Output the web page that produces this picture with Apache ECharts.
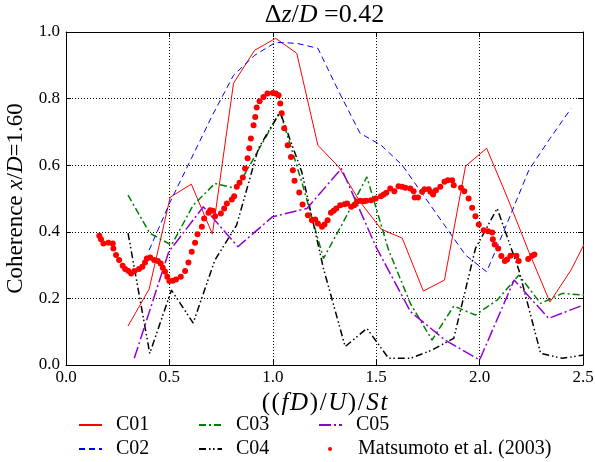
<!DOCTYPE html>
<html>
<head>
<meta charset="utf-8">
<script src="https://cdn.jsdelivr.net/npm/echarts@6/dist/echarts.min.js"></script>
<style>
  html, body { margin: 0; padding: 0; background: #fff; }
  #chart { width: 595px; height: 462px; }
</style>
</head>
<body>
<div id="chart"></div>
<script>
// Frequency axis values (normalised by each case's Strouhal number) and coherence
const xC01 = [0.300, 0.402, 0.504, 0.606, 0.708, 0.810, 0.912, 1.014, 1.116, 1.218, 1.320, 1.422,
              1.524, 1.626, 1.728, 1.830, 1.932, 2.034, 2.136, 2.238, 2.340, 2.442, 2.544];
const yC01 = [0.117, 0.228, 0.504, 0.543, 0.393, 0.846, 0.945, 0.981, 0.936, 0.660, 0.594, 0.490,
              0.408, 0.381, 0.222, 0.255, 0.597, 0.651, 0.500, 0.340, 0.189, 0.285, 0.410];

const xC02 = [0.402, 0.504, 0.606, 0.708, 0.810, 0.912, 1.014, 1.116, 1.218, 1.320, 1.422,
              1.524, 1.626, 1.728, 1.830, 1.932, 2.034, 2.136, 2.238, 2.340, 2.442];
const yC02 = [0.345, 0.490, 0.620, 0.750, 0.870, 0.930, 0.969, 0.966, 0.951, 0.820, 0.696,
              0.660, 0.600, 0.510, 0.420, 0.330, 0.280, 0.430, 0.585, 0.680, 0.770];

const xC03 = [0.300, 0.405, 0.510, 0.615, 0.720, 0.825, 0.930, 1.035, 1.140, 1.245, 1.350,
              1.455, 1.560, 1.665, 1.770, 1.875, 1.980, 2.085, 2.190, 2.295, 2.400, 2.505];
const yC03 = [0.510, 0.396, 0.360, 0.480, 0.545, 0.530, 0.645, 0.760, 0.550, 0.320, 0.440,
              0.565, 0.345, 0.185, 0.075, 0.177, 0.150, 0.195, 0.270, 0.185, 0.215, 0.210];

const xC04 = [0.300, 0.405, 0.510, 0.615, 0.720, 0.825, 0.930, 1.035, 1.140, 1.245, 1.350,
              1.455, 1.560, 1.665, 1.770, 1.875, 1.980, 2.085, 2.190, 2.295, 2.400, 2.505];
const yC04 = [0.396, 0.035, 0.225, 0.126, 0.315, 0.420, 0.650, 0.760, 0.580, 0.290, 0.055,
              0.110, 0.020, 0.020, 0.045, 0.080, 0.350, 0.470, 0.285, 0.035, 0.020, 0.030];

const xC05 = [0.330, 0.497, 0.664, 0.831, 0.998, 1.165, 1.332, 1.499, 1.666, 1.833, 2.000,
              2.167, 2.334, 2.501];
const yC05 = [0.020, 0.340, 0.475, 0.355, 0.445, 0.470, 0.590, 0.355, 0.160, 0.075, 0.015,
              0.255, 0.140, 0.180];

// Experimental reference data, Matsumoto et al. (2003)
const xRef = [0.161, 0.169, 0.181, 0.205, 0.226, 0.229, 0.242, 0.257, 0.274, 0.286, 0.302, 0.315,
              0.331, 0.353, 0.369, 0.382, 0.391, 0.407, 0.426, 0.444, 0.458, 0.468, 0.479, 0.490,
              0.500, 0.516, 0.532, 0.555, 0.576, 0.592, 0.608, 0.624, 0.636, 0.657, 0.668, 0.689,
              0.697, 0.710, 0.721, 0.749, 0.765, 0.778, 0.802, 0.813, 0.826, 0.839, 0.855, 0.866,
              0.878, 0.886, 0.894, 0.907, 0.915, 0.922, 0.936, 0.955, 0.974, 1.000, 1.014, 1.028,
              1.036, 1.043, 1.055, 1.072, 1.088, 1.097, 1.105, 1.128, 1.144, 1.170, 1.189, 1.205,
              1.218, 1.238, 1.250, 1.265, 1.281, 1.294, 1.307, 1.326, 1.347, 1.359, 1.379, 1.394,
              1.407, 1.423, 1.439, 1.452, 1.475, 1.498, 1.523, 1.536, 1.549, 1.568, 1.588, 1.608,
              1.625, 1.641, 1.665, 1.681, 1.686, 1.702, 1.722, 1.734, 1.754, 1.762, 1.775, 1.789,
              1.810, 1.830, 1.846, 1.867, 1.875, 1.910, 1.926, 1.947, 1.964, 1.980, 1.996, 2.020,
              2.041, 2.061, 2.064, 2.073, 2.090, 2.105, 2.122, 2.133, 2.149, 2.178, 2.189, 2.235,
              2.254, 2.265];
const yRef = [0.388, 0.378, 0.365, 0.367, 0.365, 0.350, 0.330, 0.315, 0.298, 0.288, 0.282, 0.275,
              0.282, 0.288, 0.295, 0.308, 0.320, 0.323, 0.315, 0.312, 0.305, 0.292, 0.280, 0.265,
              0.252, 0.253, 0.257, 0.265, 0.282, 0.308, 0.340, 0.367, 0.393, 0.415, 0.440, 0.457,
              0.465, 0.463, 0.447, 0.455, 0.470, 0.485, 0.497, 0.507, 0.535, 0.547, 0.563, 0.590,
              0.621, 0.651, 0.680, 0.720, 0.745, 0.773, 0.792, 0.805, 0.815, 0.817, 0.815, 0.810,
              0.785, 0.756, 0.711, 0.660, 0.625, 0.585, 0.553, 0.518, 0.482, 0.450, 0.435, 0.437,
              0.425, 0.415, 0.422, 0.435, 0.457, 0.463, 0.470, 0.480, 0.483, 0.485, 0.475, 0.480,
              0.490, 0.493, 0.492, 0.493, 0.495, 0.500, 0.507, 0.512, 0.517, 0.530, 0.522, 0.537,
              0.535, 0.532, 0.530, 0.522, 0.503, 0.503, 0.520, 0.528, 0.528, 0.520, 0.512, 0.525,
              0.535, 0.550, 0.555, 0.555, 0.540, 0.532, 0.522, 0.500, 0.472, 0.447, 0.422, 0.405,
              0.402, 0.398, 0.378, 0.362, 0.350, 0.327, 0.312, 0.317, 0.328, 0.328, 0.312, 0.318,
              0.328, 0.332];

const xTicks = [0.0, 0.5, 1.0, 1.5, 2.0, 2.5];
const yTicks = [0.0, 0.2, 0.4, 0.6, 0.8, 1.0];

const serif = '"Liberation Serif", "DejaVu Serif", serif';
const pairs = (xs, ys) => xs.map((x, i) => [x, ys[i]]);

const caseSeries = [
  { name: 'C01', x: xC01, y: yC01, color: '#ff0000', width: 1,   type: 'solid' },
  { name: 'C02', x: xC02, y: yC02, color: '#0000ff', width: 1,   type: [6, 4] },
  { name: 'C03', x: xC03, y: yC03, color: '#008000', width: 1.5, type: [7, 3, 2, 3] },
  { name: 'C04', x: xC04, y: yC04, color: '#000000', width: 1.5, type: [7, 3, 1.5, 2.5, 1.5, 3] },
  { name: 'C05', x: xC05, y: yC05, color: '#9400d3', width: 1.5, type: [12, 3, 2, 3] }
];
const refName = 'Matsumoto et al. (2003)';

const chart = echarts.init(document.getElementById('chart'), null, { renderer: 'canvas' });

const series = caseSeries.map(s => ({
  name: s.name,
  type: 'line',
  data: pairs(s.x, s.y),
  symbol: 'none',
  clip: true,
  color: s.color,
  lineStyle: { color: s.color, width: s.width, type: s.type },
  animation: false,
  z: 3
}));
series.push({
  name: refName,
  type: 'scatter',
  data: pairs(xRef, yRef),
  symbol: 'circle',
  symbolSize: 6,
  color: '#ff0000',
  itemStyle: { color: '#ff0000', opacity: 1 },
  animation: false,
  z: 4
});

const tickStyle = { show: true, inside: true, length: 5, lineStyle: { color: '#000', width: 1 } };
const gridLine = { show: true, lineStyle: { color: '#000', width: 1, type: [1, 2] } };
const frame = { show: true, onZero: false, lineStyle: { color: '#000', width: 1 } };
const labelFont = { fontFamily: serif, fontSize: 17, color: '#000' };

// Math-style axis title: each glyph is its own rich segment with a little side bearing
const mathStyles = (size) => ({
  p: { fontFamily: serif, fontSize: size, color: '#000', padding: [0, 0.8] },
  i: { fontFamily: serif, fontSize: size, fontStyle: 'italic', color: '#000', padding: [0, 0.8] }
});
const xName = [['p', '('], ['p', '('], ['i', 'f'], ['i', 'D'], ['p', ')'], ['p', '/'],
               ['i', 'U'], ['p', ')'], ['p', '/'], ['i', 'S'], ['i', 't']]
  .map(([k, t]) => '{' + k + '|' + t + '}').join('');

// line-style legend entries: keep the stroke, hide the marker
const lineLegend = {
  orient: 'vertical',
  itemWidth: 23,
  itemHeight: 14,
  itemGap: 4,
  itemStyle: { opacity: 0 },
  textStyle: { fontFamily: serif, fontSize: 20, color: '#000', padding: [0, 0, 0, 9] },
  selectedMode: false,
  padding: 0
};

chart.setOption({
  animation: false,
  backgroundColor: '#ffffff',
  grid: { left: 66, right: 12, top: 32, bottom: 97, containLabel: false, outerBoundsMode: 'none' },
  xAxis: [
    {
      type: 'value', min: 0, max: 2.5, interval: 0.5, position: 'bottom',
      axisLine: frame, axisTick: tickStyle, splitLine: gridLine,
      axisLabel: Object.assign({ margin: 4, formatter: v => v.toFixed(1) }, labelFont),
      name: xName,
      nameLocation: 'middle', nameGap: 20,
      nameTextStyle: { rich: mathStyles(25) }
    },
    {
      type: 'value', min: 0, max: 2.5, interval: 0.5, position: 'top',
      axisLine: frame, axisTick: tickStyle, splitLine: { show: false },
      axisLabel: { show: false }
    }
  ],
  yAxis: [
    {
      type: 'value', min: 0, max: 1.0, interval: 0.2, position: 'left',
      axisLine: frame, axisTick: tickStyle, splitLine: gridLine,
      axisLabel: Object.assign({ margin: 6, formatter: v => v.toFixed(1) }, labelFont),
      name: '{p|Coherence }{i|x}{p|/}{i|D}{p|=1.60}',
      nameLocation: 'middle', nameGap: 34, nameRotate: 90,
      nameTextStyle: {
        rich: {
          p: { fontFamily: serif, fontSize: 23, color: '#000' },
          i: { fontFamily: serif, fontSize: 23, fontStyle: 'italic', color: '#000' }
        }
      }
    },
    {
      type: 'value', min: 0, max: 1.0, interval: 0.2, position: 'right',
      axisLine: frame, axisTick: tickStyle, splitLine: { show: false },
      axisLabel: { show: false }
    }
  ],
  legend: [
    Object.assign({}, lineLegend, { left: 78, top: 415, data: ['C01', 'C02'] }),
    Object.assign({}, lineLegend, { left: 198, top: 415, data: ['C03', 'C04'] }),
    Object.assign({}, lineLegend, { left: 318, top: 415, data: ['C05'] }),
    {
      left: 328, top: 439, itemWidth: 4, itemHeight: 4, icon: 'circle',
      itemStyle: { opacity: 1 },
      textStyle: { fontFamily: serif, fontSize: 20, color: '#000', padding: [0, 0, 0, 21] },
      selectedMode: false, padding: 0, data: [refName]
    }
  ],
  graphic: [
    {
      type: 'text',
      x: 324.5, y: 2,
      style: {
        text: '{p|Δ}{i|z}{p|/}{i|D}{p| =0.42}',
        align: 'center',
        verticalAlign: 'top',
        rich: {
          p: { fontFamily: serif, fontSize: 26, fill: '#000' },
          i: { fontFamily: serif, fontSize: 26, fontStyle: 'italic', fill: '#000' }
        }
      }
    }
  ],
  series: series
});
</script>
</body>
</html>
